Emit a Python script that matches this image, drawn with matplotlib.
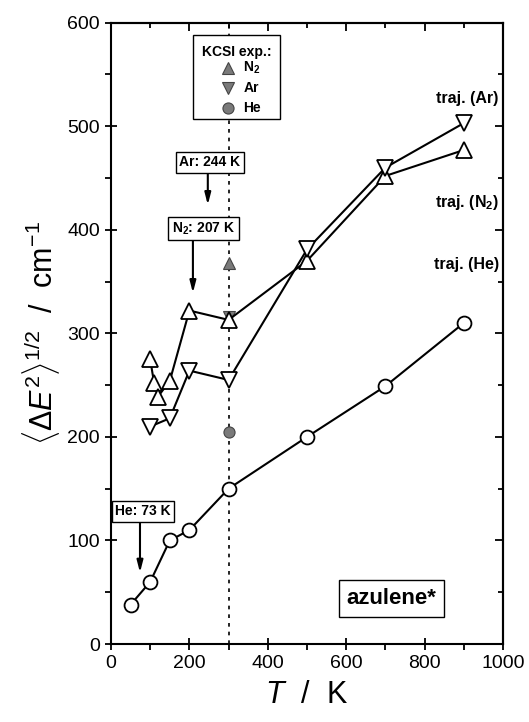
import matplotlib
matplotlib.use("Agg")
import matplotlib.pyplot as plt
from matplotlib.patches import Rectangle
from matplotlib.ticker import MultipleLocator

plt.rcParams["font.family"] = ["Liberation Sans", "DejaVu Sans"]
plt.rcParams["mathtext.fontset"] = "custom"
plt.rcParams["mathtext.rm"] = "Liberation Sans"
plt.rcParams["mathtext.it"] = "Liberation Sans:italic"
plt.rcParams["mathtext.bf"] = "Liberation Sans:bold"

# trajectory results, <dE^2>^(1/2) in cm^-1
T_HE = [50, 100, 150, 200, 300, 500, 700, 900]
DE_HE = [38, 60, 100, 110, 150, 200, 249, 310]

T_N2 = [100, 110, 120, 150, 200, 300, 500, 700, 900]
DE_N2 = [275, 252, 239, 254, 322, 313, 370, 452, 477]

T_AR = [100, 150, 200, 300, 500, 700, 900]
DE_AR = [210, 218, 264, 255, 381, 460, 503]

# KCSI experiment at 300 K
T_EXP = 300
EXP_N2 = 368
EXP_AR = 316
EXP_HE = 205

fig = plt.figure(figsize=(5.29, 7.22), dpi=100)
ax = fig.add_axes([0.2098, 0.108, 0.741, 0.8606])

ax.axvline(300, color="black", lw=1.2, ls=(0, (2.2, 3.0)), zorder=1)

open_kw = dict(color="black", lw=1.5, mfc="white", mec="black", mew=1.3, zorder=4)
ax.plot(T_HE, DE_HE, marker="o", ms=10, **open_kw)
ax.plot(T_N2, DE_N2, marker="^", ms=12, **open_kw)
ax.plot(T_AR, DE_AR, marker="v", ms=12, **open_kw)

exp_kw = dict(color="#7a7a7a", mec="#444444", mew=0.8, ls="none")
ax.plot([T_EXP], [EXP_AR], marker="v", ms=8, zorder=3, **exp_kw)
ax.plot([T_EXP], [EXP_N2], marker="^", ms=9, zorder=5, **exp_kw)
ax.plot([T_EXP], [EXP_HE], marker="o", ms=8, zorder=5, **exp_kw)

# legend for the experimental points
ax.add_patch(Rectangle((209, 507), 222, 81, fc="white", ec="black", lw=1.0, zorder=6))
ax.text(322, 572, "KCSI exp.:", ha="center", va="center", fontsize=10,
        fontweight="bold", zorder=7)
ax.plot([298], [556], marker="^", ms=9, zorder=7, **exp_kw)
ax.plot([298], [537], marker="v", ms=9, zorder=7, **exp_kw)
ax.plot([298], [518], marker="o", ms=8, zorder=7, **exp_kw)
for yy, s in [(556, r"N$_\mathbf{2}$"), (537, "Ar"), (518, "He")]:
    ax.text(338, yy, s, ha="left", va="center", fontsize=10, fontweight="bold", zorder=7)

box = dict(boxstyle="square,pad=0.25", fc="white", ec="black", lw=1.0)
arrow = dict(arrowstyle="-|>,head_width=0.18,head_length=0.7", color="black", lw=1.5,
             shrinkA=0, shrinkB=0)
ax.annotate("", xy=(247, 424), xytext=(247, 456), arrowprops=arrow, zorder=6)
ax.text(252, 465, "Ar: 244 K", ha="center", va="center", fontsize=10,
        fontweight="bold", bbox=box, zorder=7)
ax.annotate("", xy=(209, 339), xytext=(209, 390), arrowprops=arrow, zorder=6)
ax.text(236, 401, r"N$_\mathbf{2}$: 207 K", ha="center", va="center", fontsize=10,
        fontweight="bold", bbox=box, zorder=7)
ax.annotate("", xy=(74, 69), xytext=(74, 118), arrowprops=arrow, zorder=6)
ax.text(82, 128, "He: 73 K", ha="center", va="center", fontsize=10,
        fontweight="bold", bbox=box, zorder=7)

ax.text(716, 44, "azulene*", ha="center", va="center", fontsize=16, fontweight="bold",
        bbox=dict(boxstyle="square,pad=0.35", fc="white", ec="black", lw=1.0), zorder=7)

lab_kw = dict(ha="center", va="center", fontsize=11.5, fontweight="bold")
ax.text(908, 527, "traj. (Ar)", **lab_kw)
ax.text(908, 426, r"traj. (N$_\mathbf{2}$)", **lab_kw)
ax.text(908, 366, "traj. (He)", **lab_kw)

ax.set_xlim(0, 1000)
ax.set_ylim(0, 600)
ax.xaxis.set_major_locator(MultipleLocator(200))
ax.xaxis.set_minor_locator(MultipleLocator(100))
ax.yaxis.set_major_locator(MultipleLocator(100))
ax.yaxis.set_minor_locator(MultipleLocator(50))
for sp in ax.spines.values():
    sp.set_linewidth(1.5)
ax.tick_params(which="both", width=1.3, labelsize=14)
ax.tick_params(which="major", direction="inout", length=9)
ax.tick_params(which="minor", direction="out", length=4.5)

# inward ticks on the top and right frame
top = ax.secondary_xaxis("top")
right = ax.secondary_yaxis("right")
top.xaxis.set_major_locator(MultipleLocator(200))
top.xaxis.set_minor_locator(MultipleLocator(100))
right.yaxis.set_major_locator(MultipleLocator(100))
right.yaxis.set_minor_locator(MultipleLocator(50))
for sec in (top, right):
    sec.tick_params(which="both", direction="in", width=1.3, labelsize=0)
    sec.tick_params(which="major", length=6)
    sec.tick_params(which="minor", length=3.5)
    for sp in sec.spines.values():
        sp.set_linewidth(1.5)
top.set_xticklabels([])
right.set_yticklabels([])

ax.set_xlabel(r"$T$  /  K", fontsize=22, labelpad=6)
ax.set_ylabel(r"$\langle\Delta E^2\rangle^{1/2}$  /  cm$^{-1}$", fontsize=22, labelpad=4)

fig.savefig("out.png", dpi=100)
